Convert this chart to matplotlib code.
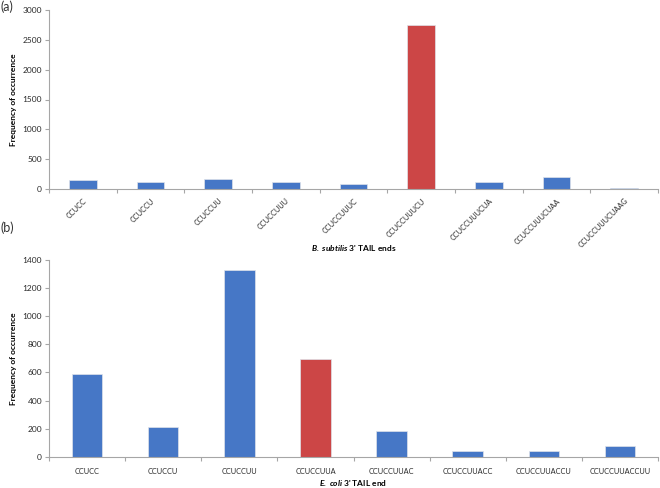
import matplotlib
matplotlib.use("Agg")
import matplotlib.pyplot as plt
import numpy as np

plt.rcParams['font.family'] = ['Lato', 'DejaVu Sans']
plt.rcParams['mathtext.fontset'] = 'custom'
plt.rcParams['mathtext.bfit'] = 'Lato:bold:italic'
plt.rcParams['mathtext.bf'] = 'Lato:bold'
plt.rcParams['mathtext.it'] = 'Lato:italic'

bs_labels = ["CCUCC", "CCUCCU", "CCUCCUU", "CCUCCUUU", "CCUCCUUUC",
             "CCUCCUUUCU", "CCUCCUUUCUA", "CCUCCUUUCUAA", "CCUCCUUUCUAAG"]
bs_values = [145, 120, 155, 120, 75, 2745, 120, 190, 15]
bs_highlight = 5

ec_labels = ["CCUCC", "CCUCCU", "CCUCCUU", "CCUCCUUA", "CCUCCUUAC",
             "CCUCCUUACC", "CCUCCUUACCU", "CCUCCUUACCUU"]
ec_values = [590, 210, 1330, 695, 185, 40, 40, 75]
ec_highlight = 3

BLUE = "#4677c6"
RED = "#cc4646"
GRAY = "#a6a6a6"
TXT = "#2a2a2a"

fig = plt.figure(figsize=(6.6, 4.88), dpi=100)
W, H = 660, 488

def make_ax(left, top, right, bottom):
    return fig.add_axes([left / W, 1 - bottom / H, (right - left) / W, (bottom - top) / H])

def style(ax, n, ymax, step):
    for s in ["top", "right"]:
        ax.spines[s].set_visible(False)
    for s in ["left", "bottom"]:
        ax.spines[s].set_color(GRAY)
        ax.spines[s].set_linewidth(0.8)
    ax.set_xlim(-0.5, n - 0.5)
    ax.set_ylim(0, ymax)
    ax.set_yticks(np.arange(0, ymax + 1, step))
    ax.tick_params(axis='y', labelsize=6, length=3, color=GRAY, width=0.8, pad=2, labelcolor=TXT)
    ax.set_xticks(np.arange(-0.5, n, 1.0), minor=False)
    ax.set_xticklabels([])
    ax.tick_params(axis='x', which='major', length=3, color=GRAY, width=0.8)
    ax.set_xticks(np.arange(n), minor=True)
    ax.tick_params(axis='x', which='minor', length=0)
    ax.set_ylabel("Frequency of occurrence", fontsize=6, fontweight='bold')

# top panel
ax1 = make_ax(49, 10.3, 658, 188.7)
n1 = len(bs_labels)
colors1 = [RED if i == bs_highlight else BLUE for i in range(n1)]
ax1.bar(np.arange(n1), bs_values, width=0.41, color=colors1, edgecolor="#dfe3ea", linewidth=0.5)
style(ax1, n1, 3000, 500)
ax1.set_xticklabels(bs_labels, minor=True, rotation=45, ha='right', va='top',
                    rotation_mode='anchor', fontsize=5.3, color=TXT)
ax1.tick_params(axis='x', which='minor', pad=6)
ax1.set_xlabel(r"$\mathbfit{B.\ subtilis}$ 3' TAIL ends", fontsize=6, fontweight='bold')
ax1.xaxis.set_label_coords(0.5, -(248 - 188.7) / (188.7 - 10.3))
ax1.xaxis.label.set_va('center')
ax1.yaxis.set_label_coords(-(49 - 13) / 609, 0.5)
ax1.yaxis.label.set_va('center')

# bottom panel
ax2 = make_ax(49, 260, 658, 456.7)
n2 = len(ec_labels)
colors2 = [RED if i == ec_highlight else BLUE for i in range(n2)]
ax2.bar(np.arange(n2), ec_values, width=0.4, color=colors2, edgecolor="#dfe3ea", linewidth=0.5)
style(ax2, n2, 1400, 200)
ax2.set_xticklabels(ec_labels, minor=True, fontsize=5.3, color=TXT)
ax2.tick_params(axis='x', which='minor', pad=8)
ax2.set_xlabel(r"$\mathbfit{E.\ coli}$ 3' TAIL end", fontsize=6, fontweight='bold')
ax2.xaxis.set_label_coords(0.5, -(483 - 456.7) / (456.7 - 260))
ax2.xaxis.label.set_va('center')
ax2.yaxis.set_label_coords(-(49 - 13) / 609, 0.5)
ax2.yaxis.label.set_va('center')

fig.text(0.5 / W, 1 - 7 / H, "(a)", fontsize=9, va='center', ha='left', color="#333333")
fig.text(0.5 / W, 1 - 228 / H, "(b)", fontsize=9, va='center', ha='left', color="#333333")

fig.savefig("out.png", dpi=100)
